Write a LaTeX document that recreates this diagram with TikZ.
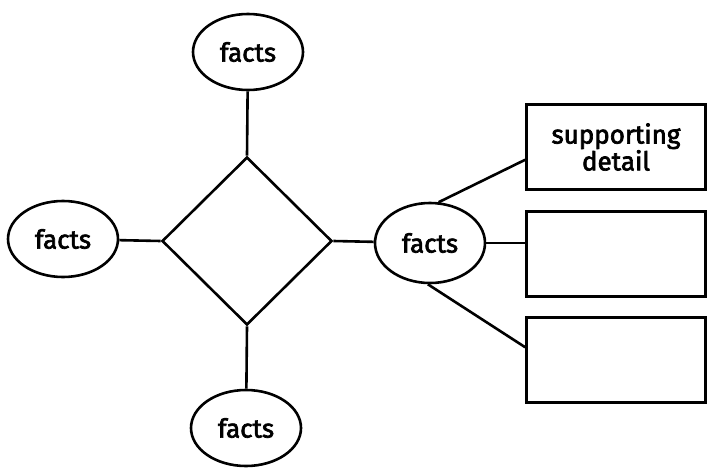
\documentclass[tikz,border=0pt]{standalone}
\usepackage{fontspec}
\setmainfont{Fira Sans}[FakeBold=2.6]
\usetikzlibrary{shapes.geometric}
\tikzset{
  fact/.style={draw, ellipse, minimum width=110pt, minimum height=76pt, inner sep=0pt},
  detailbox/.style={draw, rectangle, minimum width=179pt, minimum height=85pt, inner sep=0pt, align=center},
}
\begin{document}
\begin{tikzpicture}[x=1pt, y=-1pt, line width=2.6pt, font=\fontsize{26}{25}\selectfont]
\useasboundingbox (0,0) rectangle (710,469);
% main idea in the middle
\node[draw, diamond, minimum width=170pt, minimum height=168pt, inner sep=0pt] (main) at (247,241) {};
\node[fact] (top) at (248,52) {facts};
\node[fact] (left) at (63,239) {facts};
\node[fact] (bottom) at (246,428) {facts};
\node[fact, minimum height=80pt] (right) at (430,243) {facts};
\draw (top) -- (main.north);
\draw (left) -- (main.west);
\draw (main.east) -- (right);
\draw (main.south) -- (bottom);
% details
\node[detailbox] (d1) at (616,147) {supporting\\detail};
\node[detailbox] (d2) at (616,254) {};
\node[detailbox] (d3) at (616,360) {};
\draw (right.78) -- (d1.188);
\draw (right.east) -- (d2.west |- right.east);
\draw (right.267) -- (d3.172);
\end{tikzpicture}
\end{document}
